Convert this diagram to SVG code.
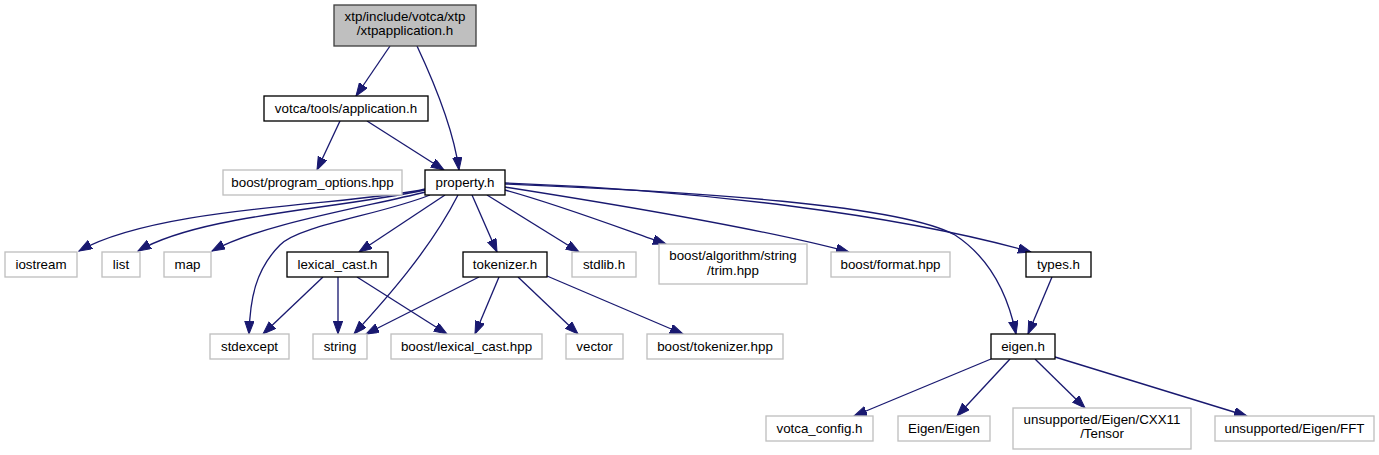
<svg xmlns="http://www.w3.org/2000/svg" width="1379" height="455" viewBox="0 0 1379 455">
<style>
text{font-family:"Liberation Sans",Arial,sans-serif;font-size:13.33px;fill:#000;text-anchor:middle}
.n rect{fill:#fff;stroke:#000;stroke-width:1.33}
.x rect{fill:#fff;stroke:#bfbfbf;stroke-width:1.33}
.r rect{fill:#bfbfbf;stroke:#404040;stroke-width:1.33}
#edges path{fill:none;stroke:#191970;stroke-width:1.33;marker-end:url(#ah)}
</style>
<defs>
<marker id="ah" markerUnits="userSpaceOnUse" markerWidth="14" markerHeight="10" refX="13" refY="4.7" orient="auto">
<path d="M0,0 L13,4.7 L0,9.4 z" fill="#191970" stroke="#191970" stroke-width="1"/>
</marker>
</defs>
<rect width="1379" height="455" fill="#fff"/>
<g id="edges">
<path d="M390,46 L356,96"/>
<path d="M417,46 C440,95 455,140 459,170"/>
<path d="M340,121 L317,170"/>
<path d="M367,121 L444,170"/>
<path d="M425,189 C360,205 160,205 79,251"/>
<path d="M425,190 C330,210 200,215 138,251"/>
<path d="M426,192 C350,210 260,225 212,251"/>
<path d="M430,195 C380,215 300,225 280,245 C255,270 250,300 249,334"/>
<path d="M445,195 L359,252"/>
<path d="M458,195 C430,250 385,300 354,334"/>
<path d="M472,195 L497,252"/>
<path d="M487,195 L579,252"/>
<path d="M505,190 C560,205 620,228 666,244"/>
<path d="M505,187 C620,205 760,228 849,252"/>
<path d="M505,183 C700,190 900,215 1031,252"/>
<path d="M505,184 C700,192 900,205 955,235 C990,258 1008,295 1016,334"/>
<path d="M323,277 L263,334"/>
<path d="M338,277 L338,334"/>
<path d="M357,277 L447,334"/>
<path d="M479,277 L366,334"/>
<path d="M499,277 L475,334"/>
<path d="M518,277 L578,334"/>
<path d="M547,276 L683,334"/>
<path d="M1052,277 L1028,334"/>
<path d="M991,359 L854,416"/>
<path d="M1010,359 L957,416"/>
<path d="M1035,359 L1085,408"/>
<path d="M1055,357 L1247,416"/>
</g>
<g id="root" class="r"><rect x="334" y="5" width="142" height="41"/><text x="405" y="20.5">xtp/include/votca/xtp</text><text x="405" y="35">/xtpapplication.h</text></g>
<g id="application" class="n"><rect x="264" y="96" width="164" height="25"/><text x="346" y="113">votca/tools/application.h</text></g>
<g id="program_options" class="x"><rect x="223" y="170" width="179" height="25"/><text x="312.5" y="187">boost/program_options.hpp</text></g>
<g id="property" class="n"><rect x="425" y="170" width="80" height="25"/><text x="465" y="187">property.h</text></g>
<g id="iostream" class="x"><rect x="5" y="252" width="72" height="25"/><text x="41" y="269">iostream</text></g>
<g id="list" class="x"><rect x="102" y="252" width="38" height="25"/><text x="121" y="269">list</text></g>
<g id="map" class="x"><rect x="164" y="252" width="47" height="25"/><text x="187.5" y="269">map</text></g>
<g id="lexical_cast_h" class="n"><rect x="287" y="252" width="101" height="25"/><text x="337.5" y="269">lexical_cast.h</text></g>
<g id="tokenizer_h" class="n"><rect x="463" y="252" width="84" height="25"/><text x="505" y="269">tokenizer.h</text></g>
<g id="stdlib" class="x"><rect x="572" y="252" width="64" height="25"/><text x="604" y="269">stdlib.h</text></g>
<g id="trim" class="x"><rect x="659" y="244" width="148" height="40"/><text x="733" y="260">boost/algorithm/string</text><text x="733" y="274.5">/trim.hpp</text></g>
<g id="format" class="x"><rect x="831" y="252" width="119" height="25"/><text x="890.5" y="269">boost/format.hpp</text></g>
<g id="types" class="n"><rect x="1026" y="252" width="65" height="25"/><text x="1058.5" y="269">types.h</text></g>
<g id="stdexcept" class="x"><rect x="210" y="334" width="79" height="25"/><text x="249.5" y="351">stdexcept</text></g>
<g id="string" class="x"><rect x="313" y="334" width="54" height="25"/><text x="340" y="351">string</text></g>
<g id="boost_lexical_cast" class="x"><rect x="391" y="334" width="151" height="25"/><text x="466.5" y="351">boost/lexical_cast.hpp</text></g>
<g id="vector" class="x"><rect x="566" y="334" width="57" height="25"/><text x="594.5" y="351">vector</text></g>
<g id="boost_tokenizer" class="x"><rect x="647" y="334" width="136" height="25"/><text x="715" y="351">boost/tokenizer.hpp</text></g>
<g id="eigen_h" class="n"><rect x="991" y="334" width="64" height="25"/><text x="1023" y="351">eigen.h</text></g>
<g id="votca_config" class="x"><rect x="766" y="416" width="107" height="25"/><text x="819.5" y="433">votca_config.h</text></g>
<g id="eigen_eigen" class="x"><rect x="898" y="416" width="92" height="25"/><text x="944" y="433">Eigen/Eigen</text></g>
<g id="tensor" class="x"><rect x="1013" y="408" width="178" height="41"/><text x="1102" y="424">unsupported/Eigen/CXX11</text><text x="1102" y="438">/Tensor</text></g>
<g id="fft" class="x"><rect x="1215" y="416" width="159" height="25"/><text x="1294.5" y="433">unsupported/Eigen/FFT</text></g>
</svg>
